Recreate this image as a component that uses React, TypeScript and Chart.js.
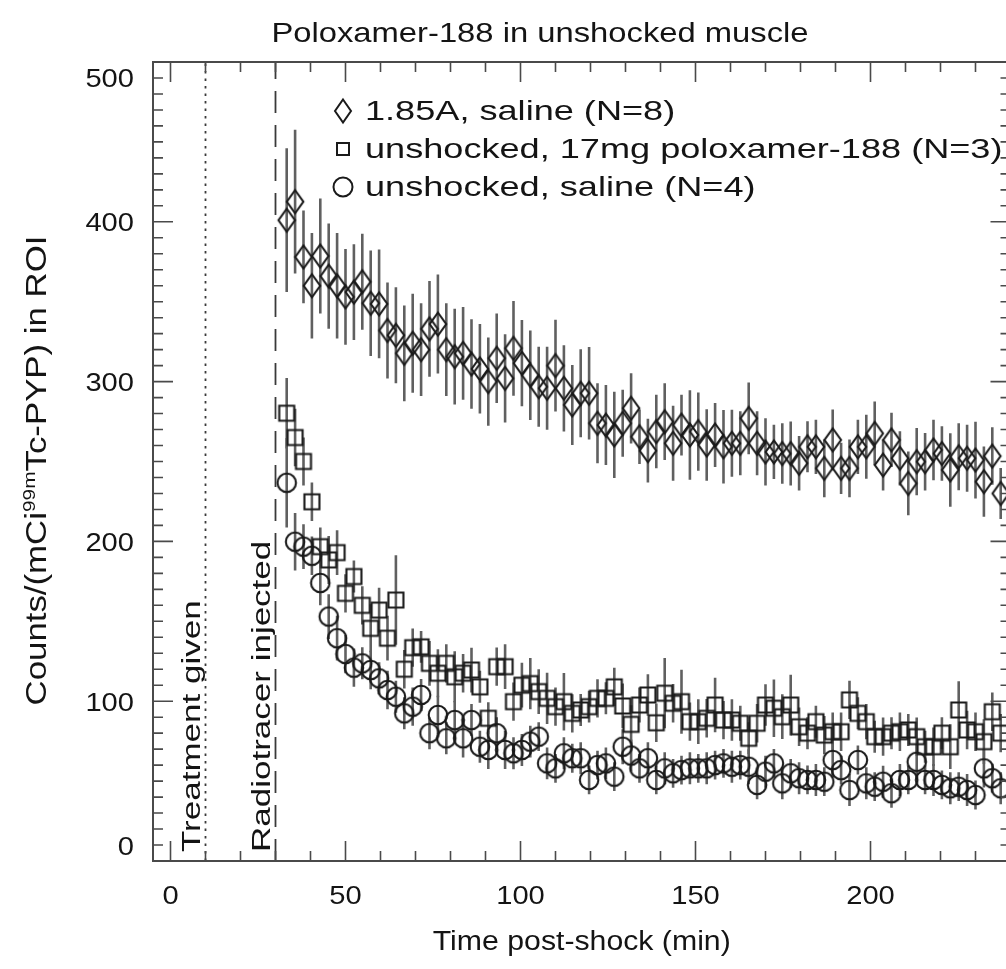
import React, { useEffect, useRef } from 'react';
import { Chart, registerables } from 'chart.js';

Chart.register(...registerables);

// ---------------- data ----------------
const times = [
  33.2, 35.6, 38.0, 40.4, 42.8, 45.2, 47.6, 50.0, 52.4, 54.8,
  57.2, 59.6, 62.0, 64.4, 66.8, 69.2, 71.6, 74.0, 76.4, 78.8,
  81.2, 83.6, 86.0, 88.4, 90.8, 93.2, 95.6, 98.0, 100.4, 102.8,
  105.2, 107.6, 110.0, 112.4, 114.8, 117.2, 119.6, 122.0, 124.4, 126.8,
  129.2, 131.6, 134.0, 136.4, 138.8, 141.2, 143.6, 146.0, 148.4, 150.8,
  153.2, 155.6, 158.0, 160.4, 162.8, 165.2, 167.6, 170.0, 172.4, 174.8,
  177.2, 179.6, 182.0, 184.4, 186.8, 189.2, 191.6, 194.0, 196.4, 198.8,
  201.2, 203.6, 206.0, 208.4, 210.8, 213.2, 215.6, 218.0, 220.4, 222.8,
  225.2, 227.6, 230.0, 232.4, 234.8, 237.2,
];

const shockedSaline = [
  401, 412.6, 378, 360, 378.6, 366, 360, 353, 356, 362.5,
  349, 348.6, 332, 329, 317.7, 324, 320, 333, 336, 320,
  315.6, 317.7, 311, 308, 300, 314.6, 302, 320.8, 311.5, 304,
  296.8, 295.8, 310, 295.8, 285.4, 292.7, 292.7, 273.9, 272.8, 266.6,
  273.9, 283.3, 265.5, 256.8, 268.7, 274.9, 261.4, 272.8, 266.6, 268.7,
  260.3, 266.6, 259.2, 261.4, 261.4, 277, 261.4, 256, 256, 255,
  255, 248.9, 259.2, 259.2, 245.7, 263.5, 245.7, 245.7, 259.2, 259.2,
  267.6, 247.8, 263.5, 252, 236.3, 249.9, 249.9, 257.2, 255, 244.7,
  253, 252, 250.9, 237.4, 253.4, 230,
];
const shockedSalineErr = [
  45, 45, 29, 33, 36, 33, 33, 30, 30, 30,
  33, 34, 30, 30, 30, 31, 29, 30, 31, 29,
  30, 29, 28, 28, 27.6, 28, 27.6, 29.7, 27, 28,
  25, 26, 28.7, 27, 25, 27.6, 29, 25, 25, 27,
  21, 22, 17, 20, 23, 24, 23.5, 19, 28, 24.5,
  22.4, 20, 23, 21, 20, 22.4, 20, 21, 17, 19,
  20, 17, 16, 17, 18, 19, 16, 18, 17, 20,
  20, 16, 17, 17, 20, 21, 18, 19, 17, 23,
  21, 21, 24, 22, 18, 16,
];

const poloxamer = [
  280.2, 265, 250, 224.8, 196.7, 188.4, 193, 167.5, 178, 160,
  145.6, 157, 139.4, 163.3, 120, 133.5, 134, 123.7, 117.5, 123.7,
  115.3, 117.5, 119.5, 109, 89.3, 121.6, 121.6, 99.7, 110, 111,
  106, 101.8, 96.6, 99.7, 92.4, 94.5, 96.6, 101.8, 101.8, 109,
  97, 85.5, 97.6, 103.9, 86.5, 105, 98.7, 99.7, 87.2, 87.2,
  89.3, 97.6, 88.2, 88.2, 86.2, 76.8, 86.2, 97.6, 95.6, 90.3,
  97.6, 84, 80, 87.2, 78.8, 80.9, 80.9, 100.8, 92.4, 87.2,
  77.8, 77.8, 80, 80.9, 82, 77.8, 71.5, 71.5, 80, 71.5,
  94.5, 82, 80.9, 74.7, 93.4, 80,
];
const poloxamerErr = [
  22, 18, 15, 12, 12, 15, 14, 12, 10, 12,
  15, 14, 14, 28, 12, 12, 10, 14, 15, 12,
  16, 12, 14, 10, 10, 12, 14, 12, 14, 16,
  14, 16, 12, 18, 12, 10, 10, 12, 10, 12,
  14, 12, 11, 13, 12, 22, 12, 20, 12, 14,
  12, 17, 12, 13, 11, 10, 12, 13, 18, 14,
  19, 12, 10, 10, 12, 12, 12, 12, 10, 11,
  10, 12, 10, 12, 10, 12, 10, 12, 10, 14,
  18, 12, 12, 14, 12, 12,
];

const unshockedSaline = [
  236.7, 199.8, 196.7, 191, 174, 153, 139.4, 129.5, 121, 123.7,
  119.5, 114.3, 107, 102.8, 92.4, 96.6, 103.9, 80, 91.4, 76.8,
  88.2, 76.8, 88.2, 71.5, 69.5, 80, 69.5, 67.4, 69.5, 74.7,
  77.8, 61.1, 58, 67.4, 64.3, 64.3, 50.7, 60, 61.1, 52.8,
  71.5, 66, 58, 64.3, 50.7, 58, 54.9, 56.9, 58, 58,
  58, 60, 61.1, 59, 60, 59, 47.6, 55.9, 61.1, 48.6,
  54.9, 51.8, 50.7, 50.7, 49.6, 63.2, 56.9, 44.4, 63.2, 48.6,
  46.5, 49.6, 42.4, 50.7, 50.7, 62.1, 50.7, 50.7, 47.6, 45.5,
  46.5, 44.4, 41.3, 58, 51.8, 45.5,
];
const unshockedSalineErr = [
  28, 18, 14, 12, 14, 14, 14, 12, 12, 10,
  12, 10, 12, 10, 10, 12, 10, 10, 12, 10,
  12, 12, 10, 10, 12, 10, 12, 10, 10, 10,
  9, 10, 9, 10, 9, 10, 9, 9, 10, 9,
  11, 10, 9, 10, 9, 10, 9, 9, 10, 9,
  10, 9, 9, 10, 9, 11, 9, 10, 9, 10,
  9, 10, 9, 10, 9, 11, 9, 10, 9, 10,
  9, 10, 9, 10, 9, 11, 9, 10, 9, 10,
  9, 10, 9, 12, 9, 10,
];

const seriesLabels = [
  '1.85A, saline (N=8)',
  'unshocked, 17mg poloxamer-188 (N=3)',
  'unshocked, saline (N=4)',
];
const xTickValues = [0, 50, 100, 150, 200];
const yTickValues = [0, 100, 200, 300, 400, 500];
const eventTimes = [10, 30];
const eventLabels = ['Treatment given', 'Radiotracer injected'];
const titleText = 'Poloxamer-188 in unshocked muscle';
const xTitle = 'Time post-shock (min)';
const yTitleParts = ['Counts/(mCi', '99m', 'Tc-PYP) in ROI'];

// ---------------- drawing helpers ----------------
const W = 1040;
const H = 969;
const FONT = '"Liberation Sans", Arial, Helvetica, sans-serif';
const INK = '#141414';

type Kind = 'diamond' | 'square' | 'circle';

function pathMarker(g: CanvasRenderingContext2D, kind: Kind, cx: number, cy: number, w: number, h: number) {
  g.beginPath();
  if (kind === 'diamond') {
    g.moveTo(cx, cy - h / 2);
    g.lineTo(cx + w / 2, cy);
    g.lineTo(cx, cy + h / 2);
    g.lineTo(cx - w / 2, cy);
    g.closePath();
  } else if (kind === 'square') {
    g.rect(cx - w / 2, cy - h / 2, w, h);
  } else {
    g.ellipse(cx, cy, w / 2, h / 2, 0, 0, Math.PI * 2);
  }
}

function markerCanvas(kind: Kind): HTMLCanvasElement {
  const c = document.createElement('canvas');
  const dims: Record<Kind, [number, number, number, number]> = {
    diamond: [22, 28, 16.5, 23],
    square: [20, 20, 15, 15],
    circle: [24, 24, 18.5, 18.5],
  };
  const [cw, ch, w, h] = dims[kind];
  c.width = cw;
  c.height = ch;
  const g = c.getContext('2d')!;
  g.strokeStyle = '#1a1a1a';
  g.lineWidth = 2.1;
  pathMarker(g, kind, cw / 2, ch / 2, w, h);
  g.stroke();
  return c;
}

function drawText(
  ctx: CanvasRenderingContext2D, text: string, x: number, y: number,
  size: number, kx: number, align: CanvasTextAlign, rot = 0,
) {
  ctx.save();
  ctx.translate(x, y);
  if (rot) ctx.rotate(rot);
  ctx.scale(kx, 1);
  ctx.font = `${size}px ${FONT}`;
  ctx.fillStyle = INK;
  ctx.textAlign = align;
  ctx.textBaseline = 'alphabetic';
  ctx.fillText(text, 0, 0);
  ctx.restore();
}

const errorBars = {
  id: 'errorBars',
  beforeDatasetsDraw(chart: any) {
    const { ctx, chartArea: a } = chart;
    const xs = chart.scales.x;
    const ys = chart.scales.y;
    ctx.save();
    ctx.beginPath();
    ctx.rect(a.left, a.top, a.right - a.left, a.bottom - a.top);
    ctx.clip();
    // event lines
    ctx.strokeStyle = '#3a3a3a';
    ctx.lineWidth = 1.8;
    eventTimes.forEach((t, i) => {
      const px = xs.getPixelForValue(t);
      ctx.setLineDash(i === 0 ? [2.5, 5] : [22, 12]);
      ctx.beginPath();
      ctx.moveTo(px, a.bottom);
      ctx.lineTo(px, a.top);
      ctx.stroke();
    });
    ctx.setLineDash([]);
    ctx.strokeStyle = '#606060';
    ctx.lineWidth = 2.6;
    chart.data.datasets.forEach((ds: any) => {
      const errs: number[] = ds.errors;
      ds.data.forEach((p: any, i: number) => {
        const px = xs.getPixelForValue(p.x);
        ctx.beginPath();
        ctx.moveTo(px, ys.getPixelForValue(p.y + errs[i]));
        ctx.lineTo(px, ys.getPixelForValue(p.y - errs[i]));
        ctx.stroke();
      });
    });
    ctx.restore();
  },
};

const decorations = {
  id: 'decorations',
  afterDraw(chart: any) {
    const { ctx, chartArea: a } = chart;
    const xs = chart.scales.x;
    const ys = chart.scales.y;
    ctx.save();
    // frame
    ctx.strokeStyle = '#4a4a4a';
    ctx.lineWidth = 2;
    ctx.strokeRect(a.left, a.top, a.right - a.left, a.bottom - a.top);
    // ticks
    ctx.lineWidth = 1.6;
    ctx.beginPath();
    for (let v = Math.ceil(xs.min / 10) * 10; v <= xs.max; v += 10) {
      const px = xs.getPixelForValue(v);
      const len = v % 50 === 0 ? 20 : 10;
      ctx.moveTo(px, a.bottom); ctx.lineTo(px, a.bottom - len);
      ctx.moveTo(px, a.top); ctx.lineTo(px, a.top + len);
    }
    for (let v = ys.min; v <= ys.max; v += 10) {
      const py = ys.getPixelForValue(v);
      const len = v % 100 === 0 ? 20 : 10;
      ctx.moveTo(a.left, py); ctx.lineTo(a.left + len, py);
      ctx.moveTo(a.right, py); ctx.lineTo(a.right - len, py);
    }
    ctx.stroke();

    // tick labels
    const tSize = 26, tK = 1.12;
    xTickValues.forEach((v) => {
      drawText(ctx, String(v), xs.getPixelForValue(v), 904, tSize, tK, 'center');
    });
    yTickValues.forEach((v, i) => {
      let py = ys.getPixelForValue(v);
      if (i === 0) py -= 15;
      if (i === yTickValues.length - 1) py += 16;
      drawText(ctx, String(v), 134, py + tSize * 0.36, tSize, tK, 'right');
    });

    // title & axis titles
    drawText(ctx, titleText, 540, 42, 28, 1.17, 'center');
    drawText(ctx, xTitle, (a.left + a.right) / 2, 950, 27, 1.12, 'center');

    // y title with superscript
    const big = 29;
    ctx.save();
    ctx.translate(46, (a.top + a.bottom) / 2 + 9);
    ctx.rotate(-Math.PI / 2);
    ctx.scale(1.2, 1);
    ctx.fillStyle = INK;
    ctx.textBaseline = 'alphabetic';
    ctx.textAlign = 'left';
    const supSize = big * 0.6;
    ctx.font = `${big}px ${FONT}`;
    const w0 = ctx.measureText(yTitleParts[0]).width;
    const w2 = ctx.measureText(yTitleParts[2]).width;
    ctx.font = `${supSize}px ${FONT}`;
    const w1 = ctx.measureText(yTitleParts[1]).width;
    let cx = -(w0 + w1 + w2) / 2;
    ctx.font = `${big}px ${FONT}`;
    ctx.fillText(yTitleParts[0], cx, 0);
    cx += w0;
    ctx.font = `${supSize}px ${FONT}`;
    ctx.fillText(yTitleParts[1], cx, -big * 0.38);
    cx += w1;
    ctx.font = `${big}px ${FONT}`;
    ctx.fillText(yTitleParts[2], cx, 0);
    ctx.restore();

    // event annotations (rotated)
    eventTimes.forEach((t, i) => {
      const px = xs.getPixelForValue(t);
      drawText(ctx, eventLabels[i], px - 6, a.bottom - 9, 25, 1.4, 'left', -Math.PI / 2);
    });

    // legend
    const kinds: Kind[] = ['diamond', 'square', 'circle'];
    const mdims: [number, number][] = [[16, 23], [12, 12], [19, 19]];
    const rowMid = [111, 149, 187];
    kinds.forEach((k, i) => {
      ctx.strokeStyle = '#1a1a1a';
      ctx.lineWidth = 2;
      pathMarker(ctx, k, 343, rowMid[i], mdims[i][0], mdims[i][1]);
      ctx.stroke();
      drawText(ctx, seriesLabels[i], 365, rowMid[i] + 9, 28, 1.29, 'left');
    });
    ctx.restore();
  },
};

export default function App() {
  const ref = useRef<HTMLCanvasElement>(null);
  useEffect(() => {
    if (!ref.current) return;
    const kinds: Kind[] = ['diamond', 'square', 'circle'];
    const vals = [shockedSaline, poloxamer, unshockedSaline];
    const errs = [shockedSalineErr, poloxamerErr, unshockedSalineErr];
    const chart = new Chart(ref.current, {
      type: 'scatter',
      data: {
        datasets: kinds.map((k, si) => ({
          label: seriesLabels[si],
          data: times.map((t, i) => ({ x: t, y: vals[si][i] })),
          errors: errs[si],
          pointStyle: markerCanvas(k),
          pointRadius: 9,
          showLine: false,
        })) as any,
      },
      options: {
        responsive: false,
        animation: false,
        devicePixelRatio: 1,
        layout: { padding: { left: 0, right: W - 1010.5, top: 62, bottom: 0 } },
        plugins: {
          legend: { display: false },
          title: { display: false },
          tooltip: { enabled: false },
        },
        scales: {
          x: {
            type: 'linear', min: -5, max: 240,
            grid: { display: false }, border: { display: false },
            ticks: { display: false, stepSize: 50 },
            afterFit: (s: any) => { s.height = H - 861; },
          },
          y: {
            type: 'linear', min: 0, max: 500,
            grid: { display: false }, border: { display: false },
            ticks: { display: false, stepSize: 100 },
            afterFit: (s: any) => { s.width = 153; },
          },
        },
      },
      plugins: [errorBars, decorations],
    });
    return () => chart.destroy();
  }, []);
  return (
    <div style={{ position: 'fixed', left: 0, top: 0, width: 1006, height: 969, overflow: 'hidden', background: '#fff' }}>
      <canvas ref={ref} width={W} height={H} style={{ width: W, height: H, display: 'block' }} />
    </div>
  );
}
